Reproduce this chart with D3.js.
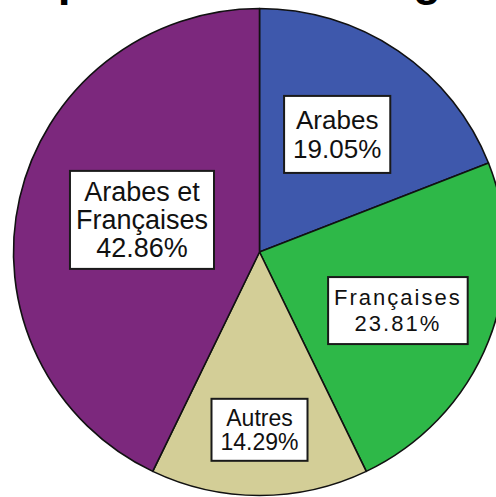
<!DOCTYPE html>
<html>
<head>
<meta charset="utf-8">
<script src="https://cdn.jsdelivr.net/npm/d3@7/dist/d3.min.js"></script>
<style>
  html, body { margin: 0; padding: 0; background: #fff; }
  svg { display: block; }
</style>
</head>
<body>
<svg id="chart" width="496" height="497"></svg>
<script>
// Langues parlées : part de chaque groupe (%)
const categories = ["Arabes", "Françaises", "Autres", "Arabes et Françaises"];
const percents = [19.05, 23.81, 14.29, 42.86];
const colors = ["#3E58AC", "#2EB848", "#D3CE97", "#7C287D"];
const titleText = "Répartition des langues";

// Label layout: distance of each label box from the centre (fraction of radius),
// extra shift, font size, letter spacing, line height and box padding.
const labelRadius = [0.575, 0.6, 0.73, 0.49];
const labelShift = [[-2, -2], [0, 5], [0, 0], [0, -6]];
const labelFont = [26, 22, 23, 27];
const labelSpacing = [0, 2, 0, 0];
const labelLine = [29, 26, 24, 28];
const labelPad = [[9, 9], [6, 8], [9, 6], [6, 6]];

const width = 496, height = 497;
const cx = 259.5, cy = 252;
const rx = 246, ry = 243.5;

const svg = d3.select("#chart");
svg.append("rect").attr("width", width).attr("height", height).attr("fill", "#fff");

// Title, sitting above the visible area
svg.append("text")
  .attr("x", -1).attr("y", -5)
  .attr("font-family", "Liberation Sans, Arial, sans-serif")
  .attr("font-weight", "bold")
  .attr("font-size", 46)
  .attr("fill", "#000")
  .text(titleText);

const data = categories.map((c, i) => ({ name: c, value: percents[i], i }));

const pie = d3.pie().sort(null).value(d => d.value).startAngle(0).endAngle(2 * Math.PI);
const arcs = pie(data);

const arc = d3.arc().innerRadius(0).outerRadius(rx);

const g = svg.append("g")
  .attr("transform", `translate(${cx},${cy}) scale(1,${ry / rx})`);

g.selectAll("path.slice")
  .data(arcs)
  .join("path")
  .attr("class", "slice")
  .attr("d", arc)
  .attr("fill", d => colors[d.data.i])
  .attr("stroke", "#111")
  .attr("stroke-width", 1.6)
  .attr("stroke-linejoin", "round");

const fmt = d3.format(".2f");

function lines(d) {
  const words = d.data.name.split(" ");
  const out = words.length > 2
    ? [words.slice(0, -1).join(" "), words[words.length - 1]]
    : [d.data.name];
  out.push(fmt(d.data.value) + "%");
  return out;
}

const labels = svg.append("g").attr("transform", `translate(${cx},${cy})`);

arcs.forEach(d => {
  const i = d.data.i;
  const k = labelRadius[i];
  const c = d3.arc().innerRadius(rx * k).outerRadius(rx * k).centroid(d);
  const px = c[0] + labelShift[i][0], py = c[1] * ry / rx + labelShift[i][1];
  const ls = lines(d);
  const lh = labelLine[i];
  const lg = labels.append("g").attr("transform", `translate(${px},${py})`);
  const rect = lg.append("rect");
  const t = lg.append("text")
    .attr("text-anchor", "middle")
    .attr("font-family", "Liberation Sans, Arial, sans-serif")
    .attr("font-size", labelFont[i])
    .attr("letter-spacing", labelSpacing[i])
    .attr("fill", "#111");
  const top = -(ls.length - 1) * lh / 2;
  ls.forEach((s, j) => {
    t.append("tspan")
      .attr("x", labelSpacing[i] / 2)
      .attr("y", top + j * lh)
      .attr("dy", "0.35em")
      .text(s);
  });
  const bb = t.node().getBBox();
  const [padX, padY] = labelPad[i];
  rect.attr("x", bb.x - padX).attr("y", bb.y - padY)
    .attr("width", bb.width + 2 * padX).attr("height", bb.height + 2 * padY)
    .attr("fill", "#fff")
    .attr("stroke", "#1a1a1a")
    .attr("stroke-width", 2);
});
</script>
</body>
</html>
